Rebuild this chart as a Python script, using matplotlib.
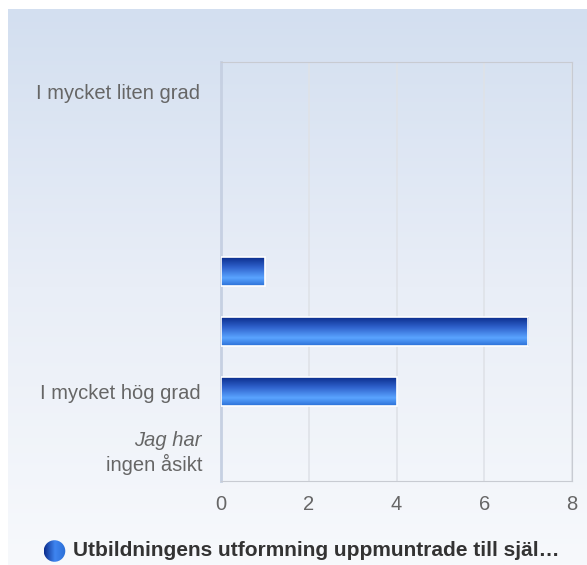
import matplotlib.pyplot as plt
import matplotlib.transforms as mtransforms
from matplotlib.colors import LinearSegmentedColormap
import numpy as np

plt.rcParams['font.family'] = ['Liberation Sans', 'DejaVu Sans']

# data
categories = ["I mycket liten grad", "", "", "", "", "I mycket hög grad", "ingen åsikt"]
values = [0, 0, 0, 1, 7, 4, 0]
xticks = [0, 2, 4, 6, 8]
series_name = "Utbildningens utformning uppmuntrade till själ…"

W, H = 587, 565
fig = plt.figure(figsize=(W / 100, H / 100), dpi=100)

# background panel with soft vertical gradient
bg = fig.add_axes([8 / W, 0, 1 - 8 / W, 1 - 9 / H], zorder=-10)
bg_cmap = LinearSegmentedColormap.from_list("bg", ["#f7f9fc", "#e9eef7", "#d3dff0"])
bg.imshow(np.linspace(0, 1, 256).reshape(-1, 1)[::-1], aspect="auto", cmap=bg_cmap,
          extent=[0, 1, 0, 1])
bg.set_axis_off()

ax = fig.add_axes([221 / W, 1 - 481 / H, (572 - 221) / W, (481 - 62) / H])
ax.set_facecolor("none")

y = np.arange(len(categories))
lw = [1.2 if v > 0 else 0 for v in values]
bars = ax.barh(y, values, height=0.48, color="#3a7be0", edgecolor="white", linewidth=lw, zorder=3)

# gradient fill for the bars
bar_cmap = LinearSegmentedColormap.from_list(
    "bar", [(0, "#0b2d8c"), (0.35, "#2f62cc"), (0.72, "#5aa4ff"), (1, "#2a6fd6")])
grad = np.linspace(0, 1, 128).reshape(-1, 1)
for b in bars:
    if b.get_width() <= 0:
        continue
    x0, y0 = b.get_x(), b.get_y()
    w, h = b.get_width(), b.get_height()
    im = ax.imshow(grad, aspect="auto", cmap=bar_cmap, extent=[x0, x0 + w, y0 + h, y0],
                   zorder=3.5)
    im.set_clip_path(b)
    b.set_facecolor("none")
    b.set_zorder(4)

ax.set_xlim(0, 8)
ax.set_ylim(len(categories) - 0.5, -0.5)
ax.set_xticks(xticks)
ax.set_yticks(y)
ax.set_yticklabels(categories)

ax.grid(axis="x", color="#dfe2e8", linewidth=1.2, zorder=0)
ax.tick_params(length=0, labelsize=14.5, labelcolor="#666666")
ax.tick_params(axis="x", pad=10)
ax.tick_params(axis="y", pad=15)
for s in ["top", "right", "bottom"]:
    ax.spines[s].set_color("#c8cbd2")
ax.spines["left"].set_color("#c6d0e2")
ax.spines["left"].set_linewidth(2)

# two-line label for the last row: italic first line
lab = ax.get_yticklabels()
lab[-1].set_transform(lab[-1].get_transform() +
                      mtransforms.ScaledTranslation(0.02, -0.11, fig.dpi_scale_trans))
trans = mtransforms.blended_transform_factory(ax.transAxes, ax.transData) + \
    mtransforms.ScaledTranslation(-0.19, 0.11, fig.dpi_scale_trans)
ax.text(0, y[-1], "Jag har", style="italic", fontsize=14.5, color="#666666",
        ha="right", va="center", transform=trans)

# legend
fig.text(73 / W, 1 - 551 / H, series_name, fontsize=15, fontweight="bold", color="#333333",
         ha="left", va="center")
lg = fig.add_axes([43.5 / W, 1 - 562 / H, 22 / W, 22 / H])
lg.set_xlim(-1, 1)
lg.set_ylim(-1, 1)
lg.set_axis_off()
circ = plt.Circle((0, 0), 0.98, facecolor="none", edgecolor="none")
lg.add_patch(circ)
lc = LinearSegmentedColormap.from_list("lc", ["#0b2d8c", "#3f85f0", "#2a6fd6"])
ci = lg.imshow(np.linspace(0, 1, 64).reshape(1, -1), cmap=lc, extent=[-1, 1, -1, 1], aspect="auto")
ci.set_clip_path(circ)

fig.savefig("out.png", dpi=100)
